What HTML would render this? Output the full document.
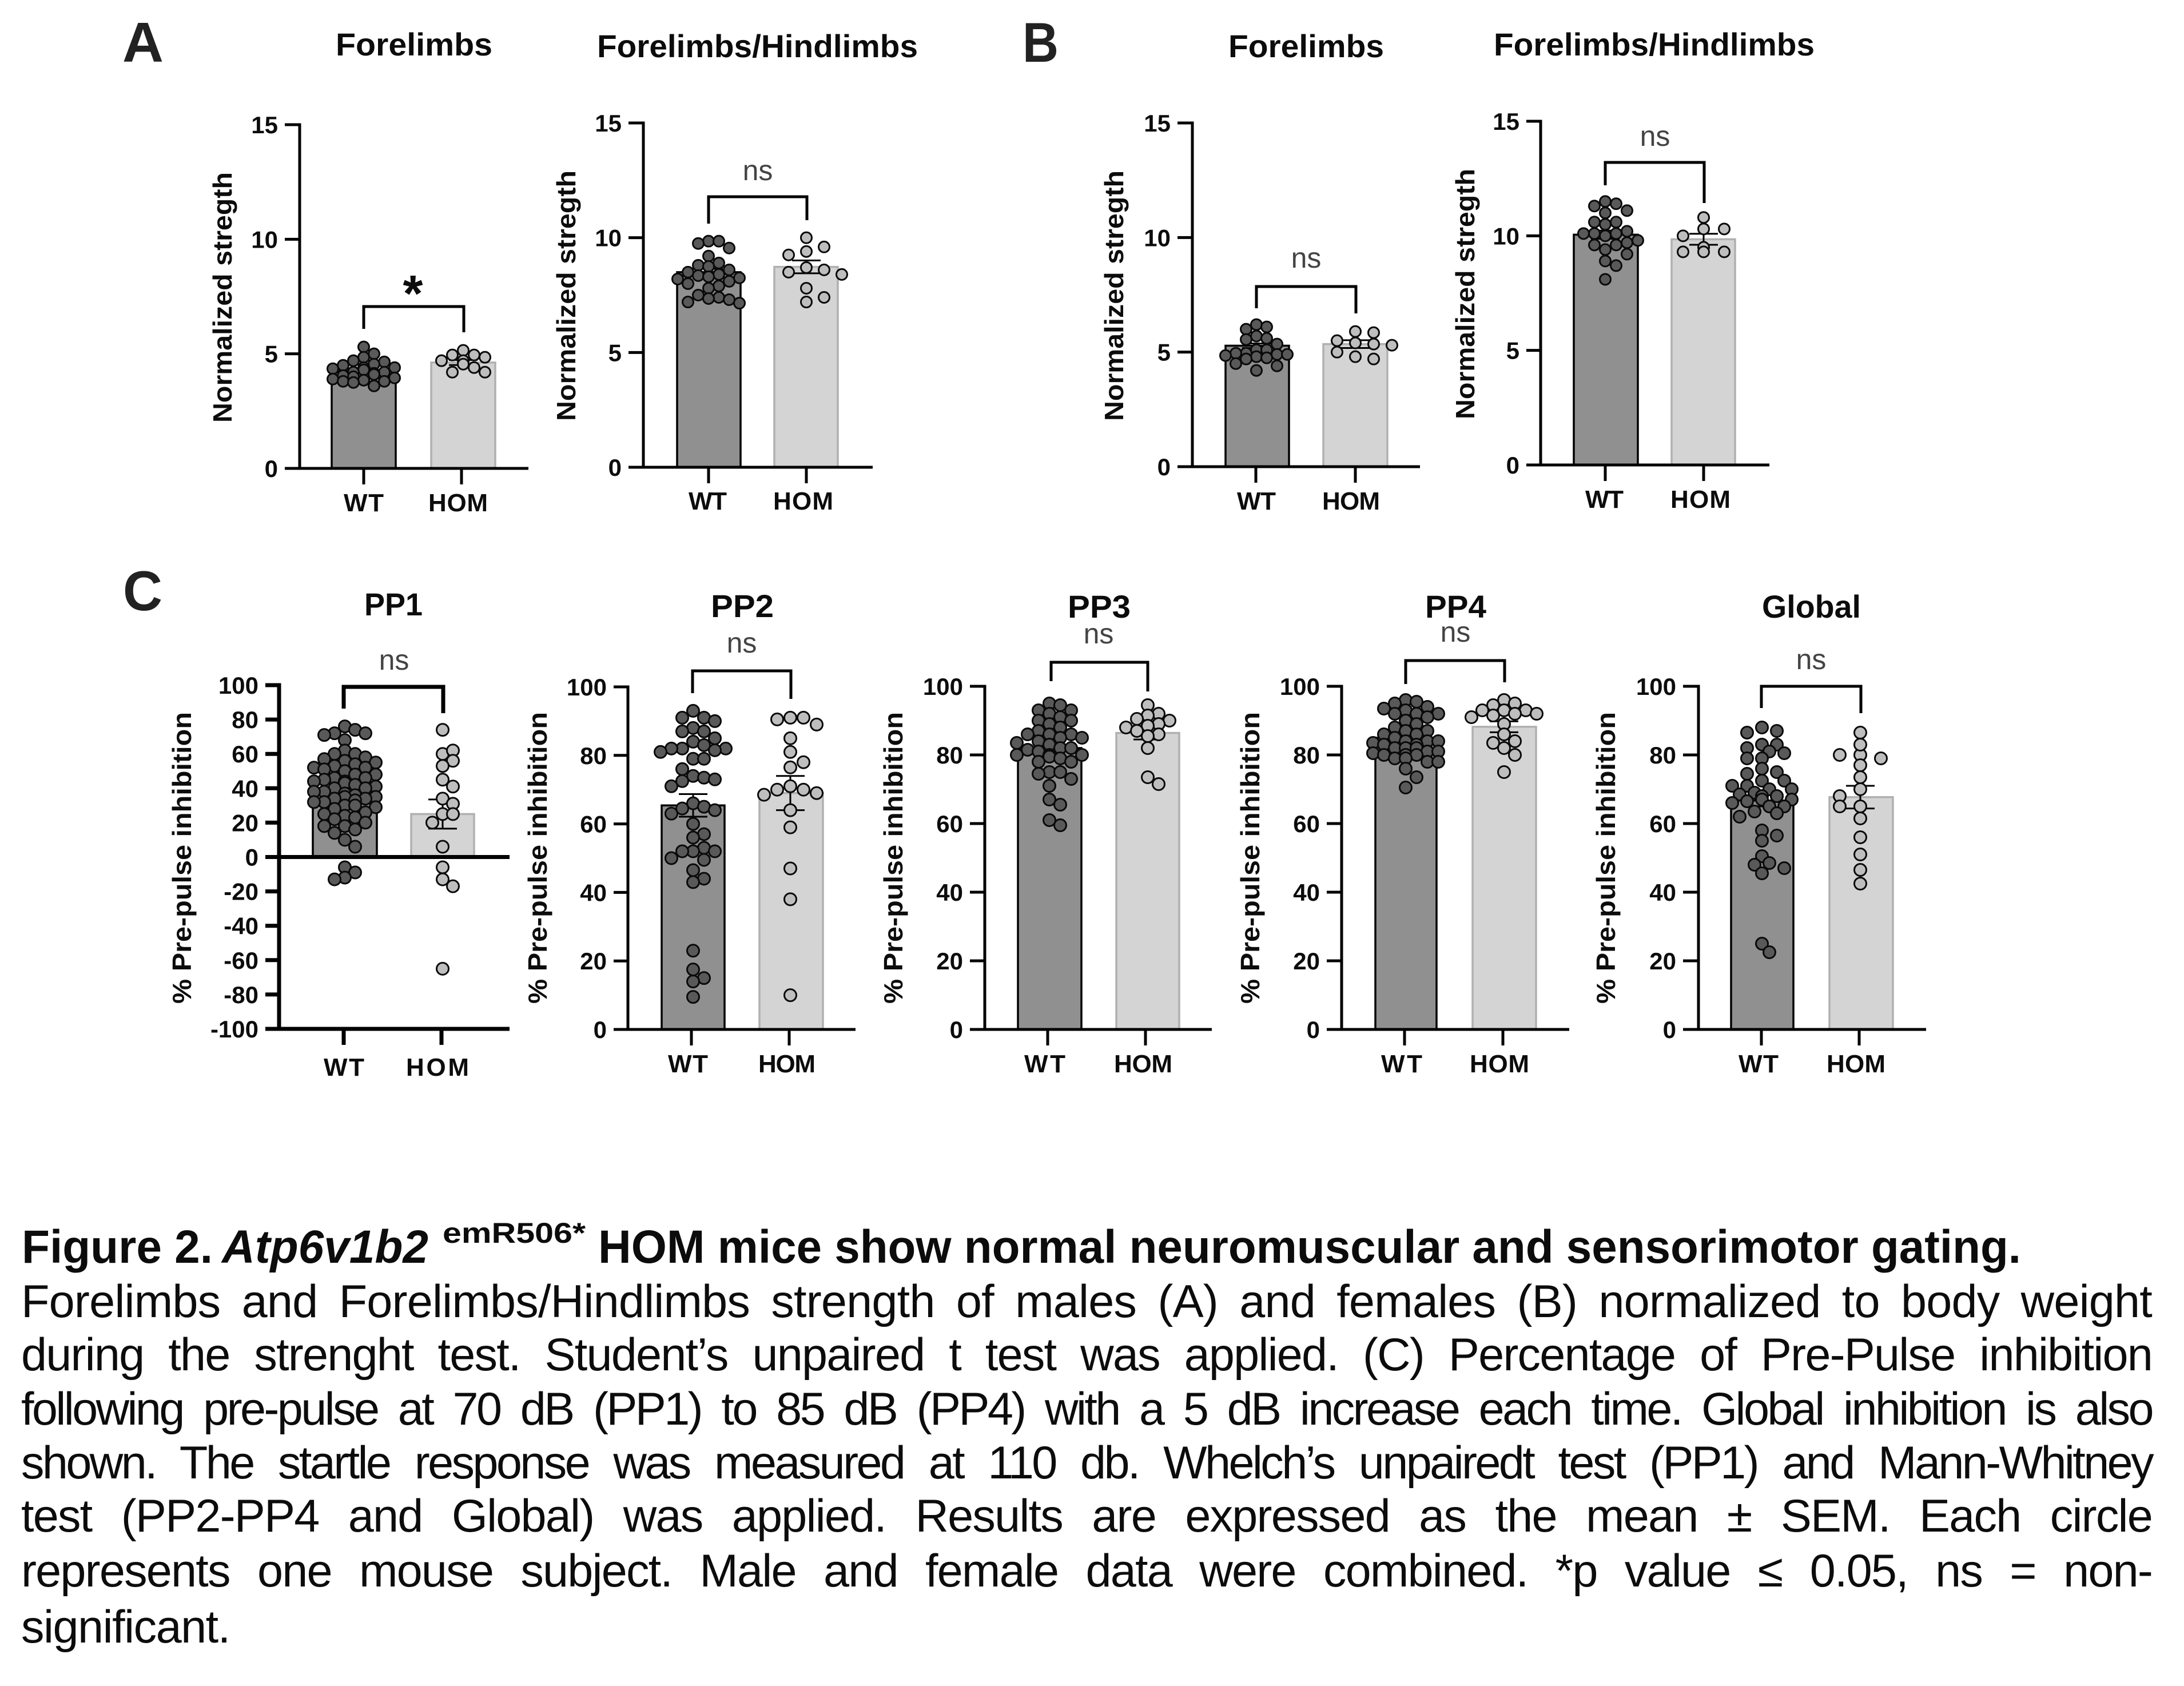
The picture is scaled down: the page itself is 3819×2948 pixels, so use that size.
<!DOCTYPE html>
<html lang="en">
<head>
<meta charset="utf-8">
<title>Figure 2 - Atp6v1b2 emR506* neuromuscular and sensorimotor gating</title>
<style>
html,body{margin:0;padding:0;background:#fff;}
#page{position:relative;width:3819px;height:2948px;overflow:hidden;background:#fff;font-family:"Liberation Sans",Arial,sans-serif;color:#0c0c0c;}
#figure{position:absolute;left:0;top:0;}
#figure text{font-family:"Liberation Sans",Arial,sans-serif;fill:#0c0c0c;}
.ttl{font-weight:bold;font-size:56px;}
.ylab{font-weight:bold;font-size:46px;}
#figure .ns{font-size:50px;fill:#444;}
.letter{font-weight:bold;font-size:98px;fill:#222 !important;}
.head{font-weight:bold;font-size:82px;}
.brk{fill:none;stroke:#000;stroke-width:5;}
.cap{position:absolute;left:37px;width:3726px;height:94px;line-height:94px;font-size:81px;white-space:nowrap;text-align:justify;text-align-last:justify;color:#0c0c0c;}
</style>
</head>
<body>
<div id="page">
<svg id="figure" width="3819" height="2948" viewBox="0 0 3819 2948" xmlns="http://www.w3.org/2000/svg">
  <text class="letter" x="214" y="108" textLength="72" lengthAdjust="spacingAndGlyphs">A</text>
  <text class="letter" x="1788" y="108" textLength="63" lengthAdjust="spacingAndGlyphs">B</text>
  <text class="letter" x="215" y="1067" textLength="69" lengthAdjust="spacingAndGlyphs">C</text>

  <text class="ttl" x="587" y="97" textLength="274" lengthAdjust="spacingAndGlyphs">Forelimbs</text>
  <text class="ttl" x="1044" y="100" textLength="561" lengthAdjust="spacingAndGlyphs">Forelimbs/Hindlimbs</text>
  <text class="ttl" x="2148" y="100" textLength="272" lengthAdjust="spacingAndGlyphs">Forelimbs</text>
  <text class="ttl" x="2612" y="97" textLength="561" lengthAdjust="spacingAndGlyphs">Forelimbs/Hindlimbs</text>
  <text class="ttl" x="637" y="1076" textLength="102" lengthAdjust="spacingAndGlyphs">PP1</text>
  <text class="ttl" x="1243" y="1079" textLength="110" lengthAdjust="spacingAndGlyphs">PP2</text>
  <text class="ttl" x="1867" y="1080" textLength="110" lengthAdjust="spacingAndGlyphs">PP3</text>
  <text class="ttl" x="2492" y="1080" textLength="107" lengthAdjust="spacingAndGlyphs">PP4</text>
  <text class="ttl" x="3081" y="1080" textLength="173" lengthAdjust="spacingAndGlyphs">Global</text>

  <text class="ylab" transform="translate(405,520) rotate(-90)" text-anchor="middle" textLength="438" lengthAdjust="spacingAndGlyphs">Normalized stregth</text>
  <text class="ylab" transform="translate(1006,517) rotate(-90)" text-anchor="middle" textLength="438" lengthAdjust="spacingAndGlyphs">Normalized stregth</text>
  <text class="ylab" transform="translate(1964,517) rotate(-90)" text-anchor="middle" textLength="438" lengthAdjust="spacingAndGlyphs">Normalized stregth</text>
  <text class="ylab" transform="translate(2578,514) rotate(-90)" text-anchor="middle" textLength="438" lengthAdjust="spacingAndGlyphs">Normalized stregth</text>
  <text class="ylab" transform="translate(334,1500) rotate(-90)" text-anchor="middle" textLength="510" lengthAdjust="spacingAndGlyphs">% Pre-pulse inhibition</text>
  <text class="ylab" transform="translate(956,1500) rotate(-90)" text-anchor="middle" textLength="510" lengthAdjust="spacingAndGlyphs">% Pre-pulse inhibition</text>
  <text class="ylab" transform="translate(1578,1500) rotate(-90)" text-anchor="middle" textLength="510" lengthAdjust="spacingAndGlyphs">% Pre-pulse inhibition</text>
  <text class="ylab" transform="translate(2202,1500) rotate(-90)" text-anchor="middle" textLength="510" lengthAdjust="spacingAndGlyphs">% Pre-pulse inhibition</text>
  <text class="ylab" transform="translate(2824,1500) rotate(-90)" text-anchor="middle" textLength="510" lengthAdjust="spacingAndGlyphs">% Pre-pulse inhibition</text>

  <path class="brk" d="M636 575V536H811V581"/>
  <path class="brk" d="M1239 391V344H1411V385"/>
  <path class="brk" d="M2197 539V501H2371V548"/>
  <path class="brk" d="M2807 324V284H2980V355"/>
  <path class="brk" style="stroke-width:7" d="M601 1239V1201H775V1247"/>
  <path class="brk" d="M1211 1212V1173H1383V1222"/>
  <path class="brk" d="M1838 1191V1158H2007V1209"/>
  <path class="brk" d="M2458 1196V1155H2631V1193"/>
  <path class="brk" d="M3080 1238V1200H3254V1247"/>

  <text x="722" y="544" text-anchor="middle" font-size="90" font-weight="bold">*</text>
  <text class="ns" x="1325" y="315" text-anchor="middle">ns</text>
  <text class="ns" x="2284" y="468" text-anchor="middle">ns</text>
  <text class="ns" x="2894" y="255" text-anchor="middle">ns</text>
  <text class="ns" x="689" y="1171" text-anchor="middle">ns</text>
  <text class="ns" x="1297" y="1141" text-anchor="middle">ns</text>
  <text class="ns" x="1921" y="1125" text-anchor="middle">ns</text>
  <text class="ns" x="2545" y="1122" text-anchor="middle">ns</text>
  <text class="ns" x="3167" y="1170" text-anchor="middle">ns</text>

  <g>
    <text class="head" x="38" y="2208" textLength="334" lengthAdjust="spacingAndGlyphs">Figure 2.</text>
    <text class="head" x="388" y="2208" font-style="italic" textLength="361" lengthAdjust="spacingAndGlyphs">Atp6v1b2</text>
    <text x="774" y="2173" font-size="50" font-weight="bold" textLength="250" lengthAdjust="spacingAndGlyphs">emR506*</text>
    <text class="head" x="1046" y="2208" textLength="2488" lengthAdjust="spacingAndGlyphs">HOM mice show normal neuromuscular and sensorimotor gating.</text>
  </g>
</svg>

<div class="cap" style="top:2229px;letter-spacing:-0.8px">Forelimbs and Forelimbs/Hindlimbs strength of males (A) and females (B) normalized to body weight</div>
<div class="cap" style="top:2322px;letter-spacing:-1.8px">during the strenght test. Student’s unpaired t test was applied. (C) Percentage of Pre-Pulse inhibition</div>
<div class="cap" style="top:2417px;letter-spacing:-3.6px">following pre-pulse at 70 dB (PP1) to 85 dB (PP4) with a 5 dB increase each time. Global inhibition is also</div>
<div class="cap" style="top:2511px;letter-spacing:-3.6px">shown. The startle response was measured at 110 db. Whelch’s unpairedt test (PP1) and Mann-Whitney</div>
<div class="cap" style="top:2604px;letter-spacing:-1.8px">test (PP2-PP4 and Global) was applied. Results are expressed as the mean ± SEM. Each circle</div>
<div class="cap" style="top:2700px;letter-spacing:-1.8px">represents one mouse subject. Male and female data were combined. *p value ≤ 0.05, ns = non-</div>
<div class="cap" style="top:2798px;letter-spacing:-1.5px;text-align:left;text-align-last:left">significant.</div>
</div>

<script>
const categories = ['WT', 'HOM'];
const ticksStrength = [0, 5, 10, 15];
const ticksPercent = [0, 20, 40, 60, 80, 100];
const ticksPercentSigned = [-100, -80, -60, -40, -20, 0, 20, 40, 60, 80, 100];

const aForeWt = [5.3,5.0,4.85,4.7,4.65,4.55,4.5,4.4,4.4,4.35,4.3,4.2,4.2,4.15,4.1,4.05,4.0,3.95,3.9,3.85,3.85,3.8,3.8,3.75,3.6];
const aForeHom = [5.15,4.95,4.95,4.85,4.7,4.7,4.55,4.4,4.2,4.2];
const aForeMeans = [4.25, 4.62];
const aForeErrors = [0.08, 0.11];

const aRatioWt = [9.85,9.85,9.75,9.55,9.2,8.9,8.8,8.75,8.6,8.5,8.4,8.35,8.3,8.25,8.2,8.1,8.0,7.9,7.8,7.5,7.4,7.35,7.3,7.2,7.15];
const aRatioHom = [10.0,9.4,9.6,9.25,8.7,8.6,8.5,8.4,7.8,7.4,7.2];
const aRatioMeans = [8.5, 8.73];
const aRatioErrors = [0.15, 0.28];

const bForeWt = [6.2,6.1,6.0,5.7,5.6,5.55,5.35,5.1,5.1,4.95,4.95,4.9,4.9,4.85,4.8,4.75,4.7,4.5,4.4,4.2];
const bForeHom = [5.9,5.85,5.5,5.4,5.35,5.3,5.0,4.8,4.7];
const bForeMeans = [5.28, 5.35];
const bForeErrors = [0.1, 0.17];

const bRatioWt = [11.5,11.4,11.3,11.1,11.0,10.6,10.6,10.5,10.2,10.1,10.1,10.1,10.0,9.8,9.7,9.6,9.6,9.4,9.2,8.9,8.7,8.1];
const bRatioHom = [10.8,10.3,10.3,10.0,9.5,9.3,9.3,9.3];
const bRatioMeans = [10.05, 9.85];
const bRatioErrors = [0.18, 0.24];

const pp1Wt = [76,74,72,72,71,68,62,60,60,58,57,56,55,54,53,52,52,51,50,50,48,48,46,46,45,44,44,43,42,41,40,40,38,38,37,36,35,35,34,34,33,32,32,30,30,29,28,26,25,24,23,22,20,18,18,16,14,10,6,-6,-9,-12,-13];
const pp1Hom = [74,60,62,56,53,45,41,34,31,25,25,20,6,-6,-13,-17,-65];
const pp1Means = [38, 25];
const pp1Errors = [3.5, 8.5];

const pp2Wt = [93,91,91,90,88,87,87,85,84,83,82,82,82,81.5,81,79,79,76,74,73.5,73,72.5,71,66,65,64.5,64,63,60,57,56,53,52,52,52,50,49.5,46.5,44,43,23,17.5,15,14,9.5];
const pp2Hom = [91,91,90.5,89,85,81,78,76.5,71,70,70,69,68.5,64,59,47,38,10];
const pp2Means = [65.4, 69];
const pp2Errors = [3.3, 5];

const pp3Wt = [95,94.5,93,93,92,91,90,90,89,88,87,86,86,86,85,85,84,83.5,83,82,82,81.5,81,80,80,80,79.5,79,78,78,75,75,74.5,73,71,67,65.5,61,59.5];
const pp3Hom = [94.5,92,91.5,90.5,90,89,88.5,88,87,86,85.5,82,73.5,71.5];
const pp3Means = [82, 86.4];
const pp3Errors = [1.3, 1.9];

const pp4Wt = [96,95.5,95,94,93.5,93,92,92,92,91,90,89,88,87,87,86,86,85,84,84,84,83.5,83,83,82,82,82,81,81,80.5,80,80,80,79,79,78,78,76,73.5,70.5];
const pp4Hom = [96,95,94.5,93,93,93,92,92,91.5,91,89,86,84,83.5,82,80,75];
const pp4Means = [85, 88.2];
const pp4Errors = [1, 1.6];

const globalWt = [88,87,86.5,83,83,82,81,80.5,79,79,76,75,74.5,72.5,72.5,71,71,70,70,69,68.5,68,68,68,67,67,66.5,66,65,65,65,63.5,63,62,58,56.5,55,50.5,48.5,48,47,45.5,25,22.5];
const globalHom = [86.5,80,83,80,79,77,73.5,70,68,65,65,61.5,56,51,46.5,42.5];
const globalMeans = [66.7, 67.7];
const globalErrors = [1.7, 3.3];

const SVGNS = 'http://www.w3.org/2000/svg';
const svg = document.getElementById('figure');

function mk(parent, tag, attrs) {
  const el = document.createElementNS(SVGNS, tag);
  for (const k in attrs) el.setAttribute(k, attrs[k]);
  parent.appendChild(el);
  return el;
}

function swarm(vals, yScale, cx, slot, cols, dist, side) {
  const placed = [];
  vals.forEach(function (v) {
    const py = yScale(v);
    let best = null, bestHits = Infinity;
    for (let k = 0; k <= cols * 2; k++) {
      const off = k === 0 ? 0 : (k % 2 ? (k + 1) / 2 : -k / 2) * slot * side;
      const px = cx + off;
      const hits = placed.filter(function (p) { return Math.hypot(p.x - px, p.y - py) < dist; }).length;
      if (hits < bestHits) { bestHits = hits; best = px; }
      if (hits === 0) break;
    }
    placed.push({ x: best, y: py });
  });
  return placed;
}

function drawPanel(c) {
  const g = mk(svg, 'g', {});
  
  

  const yScale = function (v) {
    return c.yBase - (v - c.domain[0]) / (c.domain[1] - c.domain[0]) * (c.yBase - c.yTop);
  };
  const zero = yScale(Math.max(0, c.domain[0]));
  const fills = ['#909090', '#d4d4d4'];
  const edges = ['#000', '#b0b0b0'];
  const dotFill = ['#595959', '#bebebe'];

  c.series.forEach(function (vals, i) {
    const name = categories[i].toLowerCase();
    const top = yScale(c.means[i]);
    const bar = mk(g, 'rect', { x: c.bars[i][0], y: top, width: c.bars[i][1] - c.bars[i][0], height: zero - top, fill: fills[i], stroke: edges[i], 'stroke-width': 3.5 });
    
    

    const hi = yScale(c.means[i] + c.errors[i]);
    const lo = yScale(c.means[i] - c.errors[i]);
    const cx = c.centers[i];
    const err = mk(g, 'path', { d: 'M' + (cx - 25) + ' ' + hi + 'H' + (cx + 25) + 'M' + cx + ' ' + hi + 'V' + lo + 'M' + (cx - 25) + ' ' + lo + 'H' + (cx + 25), fill: 'none', stroke: '#000', 'stroke-width': 3 });
    
    

    swarm(vals, yScale, c.centers[i], c.slots[i], c.cols[i], c.dist, c.sides ? c.sides[i] : 1).forEach(function (p) {
      const dot = mk(g, 'circle', { cx: p.x, cy: p.y, r: c.r, fill: dotFill[i], stroke: '#0a0a0a', 'stroke-width': 3 });
      
      
    });

    const lbl = mk(g, 'text', { x: c.labels[i][0], y: c.labelY, 'font-size': 44, 'font-weight': 'bold', textLength: c.labels[i][1] - c.labels[i][0], lengthAdjust: 'spacing' });
    lbl.textContent = categories[i];
    
    

    const xt = mk(g, 'line', { x1: c.ticksX[i], x2: c.ticksX[i], y1: c.yBase, y2: c.yBase + 28, stroke: '#000', 'stroke-width': c.sw });
    
    
  });

  c.ticks.forEach(function (t) {
    const y = yScale(t);
    const tk = mk(g, 'line', { x1: c.left, x2: c.axisX, y1: y, y2: y, stroke: '#000', 'stroke-width': c.sw });
    
    
    const lb = mk(g, 'text', { x: c.left - 12, y: y + 15, 'text-anchor': 'end', 'font-size': 42, 'font-weight': 'bold' });
    lb.textContent = String(t);
    
    
  });

  const yAxis = mk(g, 'line', { x1: c.axisX, x2: c.axisX, y1: c.yTop - c.sw / 2, y2: c.yBase + c.sw / 2, stroke: '#000', 'stroke-width': c.sw });
  
  

  const xAxis = mk(g, 'line', { x1: c.left, x2: c.right, y1: c.yBase, y2: c.yBase, stroke: '#000', 'stroke-width': c.sw });
  
  

  if (c.domain[0] < 0) {
    const zeroLine = mk(g, 'line', { x1: c.left, x2: c.right, y1: zero, y2: zero, stroke: '#000', 'stroke-width': c.sw });
    
    
  }
}

drawPanel({ id: 'a-forelimbs', series: [aForeWt, aForeHom], means: aForeMeans, errors: aForeErrors, domain: [0, 15], ticks: ticksStrength,
  axisX: 524, left: 498, right: 924, yTop: 218, yBase: 819, bars: [[580, 692], [754, 866]], centers: [636, 810], ticksX: [636, 807],
  labels: [[601, 671], [749, 853]], labelY: 894, slots: [18, 19], cols: [3, 2], dist: 17, r: 9.5, sw: 5 });
drawPanel({ id: 'a-ratio', series: [aRatioWt, aRatioHom], means: aRatioMeans, errors: aRatioErrors, domain: [0, 15], ticks: ticksStrength,
  axisX: 1125, left: 1099, right: 1526, yTop: 215, yBase: 817, bars: [[1184, 1295], [1354, 1465]], centers: [1239, 1410], ticksX: [1239, 1410],
  labels: [[1204, 1271], [1352, 1457]], labelY: 891, slots: [18, 31], cols: [3, 2], dist: 17, r: 9.5, sw: 5 });
drawPanel({ id: 'b-forelimbs', series: [bForeWt, bForeHom], means: bForeMeans, errors: bForeErrors, domain: [0, 15], ticks: ticksStrength,
  axisX: 2085, left: 2059, right: 2483, yTop: 215, yBase: 816, bars: [[2143, 2254], [2314, 2426]], centers: [2197, 2370], ticksX: [2196, 2370],
  labels: [[2163, 2231], [2312, 2413]], labelY: 891, slots: [18, 32], cols: [3, 2], dist: 17, r: 9.5, sw: 5 });
drawPanel({ id: 'b-ratio', series: [bRatioWt, bRatioHom], means: bRatioMeans, errors: bRatioErrors, domain: [0, 15], ticks: ticksStrength,
  axisX: 2694, left: 2669, right: 3094, yTop: 212, yBase: 813, bars: [[2752, 2864], [2923, 3034]], centers: [2807, 2979], ticksX: [2807, 2979],
  labels: [[2772, 2839], [2921, 3026]], labelY: 888, slots: [19, 36], cols: [3, 1], dist: 18, r: 9.5, sw: 5 });

drawPanel({ id: 'pp1', series: [pp1Wt, pp1Hom], means: pp1Means, errors: pp1Errors, domain: [-100, 100], ticks: ticksPercentSigned,
  axisX: 488, left: 464, right: 891, yTop: 1198, yBase: 1799, bars: [[547, 659], [719, 829]], centers: [603, 774], ticksX: [601, 772],
  labels: [[566, 637], [710, 820]], labelY: 1881, slots: [18, 18], cols: [3, 2], dist: 18, r: 10.5, sw: 7 });
drawPanel({ id: 'pp2', series: [pp2Wt, pp2Hom], means: pp2Means, errors: pp2Errors, domain: [0, 100], ticks: ticksPercent,
  axisX: 1098, left: 1073, right: 1496, yTop: 1201, yBase: 1800, bars: [[1157, 1267], [1328, 1439]], centers: [1212, 1382], ticksX: [1209, 1380],
  labels: [[1168, 1238], [1326, 1426]], labelY: 1875, slots: [19, 23], cols: [3, 2], dist: 18, r: 10.5, sw: 5 });
drawPanel({ id: 'pp3', series: [pp3Wt, pp3Hom], means: pp3Means, errors: pp3Errors, domain: [0, 100], ticks: ticksPercent,
  axisX: 1722, left: 1696, right: 2119, yTop: 1200, yBase: 1800, bars: [[1780, 1891], [1952, 2062]], centers: [1835, 2007], ticksX: [1832, 2003],
  labels: [[1791, 1863], [1948, 2050]], labelY: 1875, slots: [19, 19], cols: [3, 3], dist: 16, r: 10.5, sw: 5 });
drawPanel({ id: 'pp4', series: [pp4Wt, pp4Hom], means: pp4Means, errors: pp4Errors, domain: [0, 100], ticks: ticksPercent,
  axisX: 2346, left: 2320, right: 2744, yTop: 1200, yBase: 1800, bars: [[2405, 2512], [2575, 2686]], centers: [2458, 2630], ticksX: [2456, 2628],
  labels: [[2415, 2487], [2570, 2674]], labelY: 1875, slots: [19, 19], cols: [3, 3], dist: 16, r: 10.5, sw: 5 });
drawPanel({ id: 'global', series: [globalWt, globalHom], means: globalMeans, errors: globalErrors, domain: [0, 100], ticks: ticksPercent,
  axisX: 2970, left: 2943, right: 3368, yTop: 1200, yBase: 1800, bars: [[3027, 3136], [3199, 3310]], centers: [3081, 3253], ticksX: [3080, 3251],
  labels: [[3040, 3110], [3194, 3297]], labelY: 1875, slots: [13, 36], cols: [4, 1], dist: 17, sides: [1, -1], r: 10.5, sw: 5 });
</script>
</body>
</html>
